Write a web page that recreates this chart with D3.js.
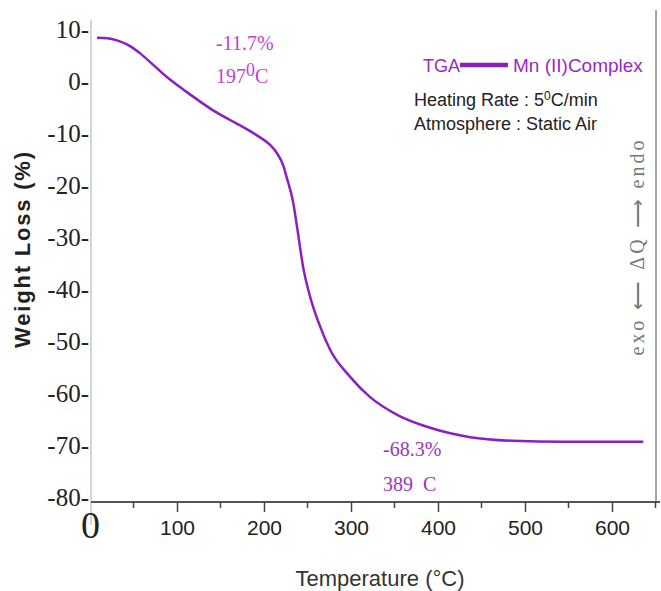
<!DOCTYPE html>
<html>
<head>
<meta charset="utf-8">
<style>
  body { margin: 0; background: #fff; }
  text { font-family: "Liberation Sans", Arial, sans-serif; }
</style>
</head>
<body>
<svg width="661" height="591"></svg>
<script src="https://d3js.org/d3.v7.min.js"></script>
<script>

// TGA trace
var temps   = [8, 20, 31, 45, 57, 72, 88, 111, 141, 172, 195, 207, 215, 222, 226, 233, 239, 245, 253, 264, 276, 299, 322, 353, 391, 437, 486, 544, 636],
    weights = [8.5, 8.4, 8.0, 7.0, 5.6, 3.4, 1.0, -1.9, -5.4, -8.3, -10.6, -12.1, -13.7, -16.0, -18.3, -22.7, -29, -35.6, -41.3, -46.8, -51.5, -56.7, -60.6, -64, -66.5, -68.3, -69, -69.2, -69.2];

var yTicks = [10, 0, -10, -20, -30, -40, -50, -60, -70, -80],
    xTicks = [0, 100, 200, 300, 400, 500, 600],
    xMinor = [50, 150, 250, 350, 450, 550, 650];

var svg = d3.select("svg");

var x = d3.scaleLinear().domain([0, 650]).range([90, 655.5]),
    y = d3.scaleLinear().domain([-80, 10]).range([498, 30]);

// left axis: light gray line, serif labels with trailing dash
svg.append("line")
    .attr("x1", 91).attr("x2", 91).attr("y1", 20).attr("y2", 525)
    .attr("stroke", "#d4d4d4").attr("stroke-width", 2);

svg.selectAll(".ylab").data(yTicks).enter().append("text")
    .attr("class", "ylab")
    .attr("x", 89)
    .attr("y", function(d) { return y(d) + 8; })
    .attr("text-anchor", "end")
    .style("font-family", "'Liberation Serif', 'Times New Roman', serif")
    .style("font-size", "25px")
    .attr("fill", "#222")
    .text(function(d) { return d + "-"; });

// right frame line
svg.append("line")
    .attr("x1", 656).attr("x2", 656).attr("y1", 10).attr("y2", 502)
    .attr("stroke", "#8a8a8a").attr("stroke-width", 1.5);

// bottom axis
var xAxis = svg.append("g")
    .attr("transform", "translate(0,502)")
    .call(d3.axisBottom(x).tickValues(xTicks).tickSize(10).tickPadding(8).tickFormat(d3.format("d")));
xAxis.select(".domain").attr("stroke", "#555").attr("stroke-width", 2.2)
    .attr("d", "M91,0H660");
xAxis.selectAll(".tick line").attr("stroke", "#444").attr("stroke-width", 1.5);
xAxis.selectAll(".tick text")
    .attr("fill", "#222")
    .style("font-family", "'Liberation Sans', Arial, sans-serif")
    .style("font-size", "21px");
xAxis.selectAll(".tick").filter(function(d) { return d === 0; }).select("text")
    .style("font-family", "'Liberation Serif', serif")
    .style("font-size", "38px")
    .attr("dy", "0.62em")
    .attr("y", 12);
xAxis.selectAll(".tick").filter(function(d) { return d === 0; }).select("line").remove();

xAxis.selectAll(".minor").data(xMinor).enter().append("line")
    .attr("class", "minor")
    .attr("x1", x).attr("x2", x).attr("y1", 0).attr("y2", 6)
    .attr("stroke", "#444").attr("stroke-width", 1.5);

// curve
var line = d3.line()
    .x(function(d, i) { return x(temps[i]); })
    .y(function(d) { return y(d); })
    .curve(d3.curveMonotoneX);

svg.append("path")
    .datum(weights)
    .attr("d", line)
    .attr("fill", "none")
    .attr("stroke", "#8c1fc4")
    .attr("stroke-width", 2.5);

// axis titles
svg.append("text")
    .attr("transform", "translate(30,250) rotate(-90)")
    .attr("text-anchor", "middle")
    .style("font-size", "22px")
    .style("font-weight", "bold")
    .attr("fill", "#222")
    .attr("textLength", 196)
    .text("Weight Loss (%)");

svg.append("text")
    .attr("x", 380).attr("y", 586)
    .attr("text-anchor", "middle")
    .style("font-size", "22px")
    .attr("fill", "#333")
    .text("Temperature (°C)");

// legend
svg.append("text").attr("x", 423).attr("y", 72)
    .style("font-size", "18px").attr("fill", "#9b27c9").text("TGA");
svg.append("line").attr("x1", 460).attr("x2", 508).attr("y1", 65).attr("y2", 65)
    .attr("stroke", "#8c1fc4").attr("stroke-width", 4.5);
svg.append("text").attr("x", 513).attr("y", 72)
    .style("font-size", "19px").attr("fill", "#9b27c9").text("Mn (II)Complex");

var hr = svg.append("text").attr("x", 414).attr("y", 106)
    .style("font-size", "18px").attr("fill", "#222");
hr.append("tspan").text("Heating Rate : 5");
hr.append("tspan").attr("dy", -6).style("font-size", "12px").text("0");
hr.append("tspan").attr("dy", 6).text("C/min");

svg.append("text").attr("x", 414).attr("y", 130)
    .style("font-size", "18px").attr("fill", "#222").text("Atmosphere : Static Air");

// annotations
var serif = "'Liberation Serif', 'Times New Roman', serif";
svg.append("text").attr("x", 216).attr("y", 50)
    .style("font-family", serif).style("font-size", "20px").attr("fill", "#c53fcf").text("-11.7%");
var t197 = svg.append("text").attr("x", 216).attr("y", 83)
    .style("font-family", serif).style("font-size", "20px").attr("fill", "#c53fcf");
t197.append("tspan").text("197");
t197.append("tspan").attr("dy", -7).style("font-size", "18px").text("0");
t197.append("tspan").attr("dy", 7).text("C");

svg.append("text").attr("x", 383).attr("y", 456)
    .style("font-family", serif).style("font-size", "20px").attr("fill", "#9a34bd").text("-68.3%");
svg.append("text").attr("x", 383).attr("y", 491)
    .style("font-family", serif).style("font-size", "20px").attr("fill", "#9a34bd")
    .attr("xml:space", "preserve").text("389  C");

// right side heat flow label
svg.append("text")
    .attr("transform", "translate(644,248) rotate(-90)")
    .attr("text-anchor", "middle")
    .style("font-family", serif)
    .style("font-size", "20px")
    .attr("fill", "#777")
    .attr("textLength", 215)
    .text("exo  \u27F5  \u0394Q  \u27F6  endo");

</script>
</body>
</html>
